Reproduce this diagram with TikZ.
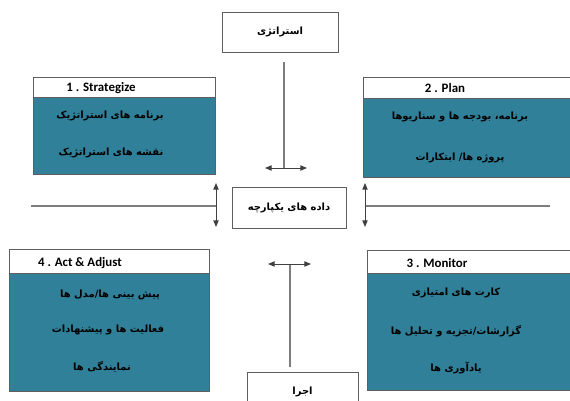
\documentclass[tikz,border=0pt]{standalone}
\usepackage{fontspec}
\setmainfont{Carlito}
\newfontfamily\farsifont[Script=Arabic]{DejaVu Sans}
\TeXXeTstate=1
\definecolor{teal1}{RGB}{47, 128, 152}
\definecolor{edge1}{RGB}{95, 95, 95}
\definecolor{line1}{RGB}{125, 125, 125}
\usetikzlibrary{arrows.meta, positioning, calc}
\newcommand{\fa}[1]{{\farsifont\bfseries\beginR #1\endR}}

\begin{document}
\begin{tikzpicture}[x=0.03cm, y=-0.03cm,
    plainbox/.style={draw=edge1, line width=0.8pt, fill=white, inner sep=0pt, outer sep=0pt, font=\fontsize{8.5}{10}\selectfont},
    headbox/.style={draw=edge1, line width=0.8pt, fill=white, inner sep=0pt, outer sep=0pt},
    bodybox/.style={draw=edge1, line width=0.8pt, fill=teal1, inner sep=0pt, outer sep=0pt},
    headtext/.style={font=\fontsize{11}{13}\selectfont\bfseries, inner sep=0pt},
    bodytext/.style={font=\fontsize{8.5}{10}\selectfont, inner sep=0pt},
    link/.style={draw=line1, line width=1pt},
    twoway/.style={draw=black!75, line width=0.8pt, {Triangle[length=0.2cm, width=0.16cm]}-{Triangle[length=0.2cm, width=0.16cm]}}]
  \useasboundingbox (0,0) rectangle (570,401);
  \clip (0,0) rectangle (570,401);

  % centre column
  \node[plainbox, minimum width=3.48cm, minimum height=1.2cm] (strat) at (280,32) {\fa{استراتژی}};
  \node[plainbox, minimum width=3.42cm, minimum height=1.23cm] (data) at (289,207.5) {\fa{داده های یکپارچه}};
  \node[plainbox, minimum width=3.33cm, minimum height=1.2cm] (exec) at (302.5,392) {\fa{اجرا}};

  % 1 . Strategize
  \node[headbox, minimum width=5.46cm, minimum height=0.6cm] (h1) at (124,87) {};
  \node[bodybox, minimum width=5.46cm, minimum height=2.31cm, below=0pt of h1] (b1) {};
  \node[headtext] (t1) at (101,88) {1 . Strategize};
  \node[bodytext] (t1a) at (110,116) {\fa{برنامه های استراتژیک}};
  \node[bodytext] (t1b) at (111,153) {\fa{نقشه های استراتژیک}};

  % 2 . Plan
  \node[headbox, minimum width=6.36cm, minimum height=0.63cm] (h2) at (469,87.5) {};
  \node[bodybox, minimum width=6.36cm, minimum height=2.37cm, below=0pt of h2] (b2) {};
  \node[headtext] (t2) at (445,88) {2 . Plan};
  \node[bodytext] (t2a) at (460,117) {\fa{برنامه، بودجه ها و سناریوها}};
  \node[bodytext] (t2b) at (460,158) {\fa{پروژه ها/ ابتکارات}};

  % 3 . Monitor
  \node[headbox, minimum width=6.24cm, minimum height=0.69cm] (h3) at (471,261.5) {};
  \node[bodybox, minimum width=6.24cm, minimum height=3.51cm, below=0pt of h3] (b3) {};
  \node[headtext] (t3) at (437,263) {3 . Monitor};
  \node[bodytext] (t3a) at (456,293) {\fa{کارت های امتیازی}};
  \node[bodytext] (t3b) at (456,331) {\fa{گزارشات/تجزیه و تحلیل ها}};
  \node[bodytext] (t3c) at (456,368) {\fa{یادآوری ها}};

  % 4 . Act & Adjust
  \node[headbox, minimum width=6cm, minimum height=0.72cm] (h4) at (109,261) {};
  \node[bodybox, minimum width=6cm, minimum height=3.54cm, below=0pt of h4] (b4) {};
  \node[headtext] (t4) at (80,263) {4 . Act \& Adjust};
  \node[bodytext] (t4a) at (110,295) {\fa{پیش بینی ها/مدل ها}};
  \node[bodytext] (t4b) at (108,330) {\fa{فعالیت ها و پیشنهادات}};
  \node[bodytext] (t4c) at (102,367) {\fa{نمایندگی ها}};

  % connectors
  \coordinate (topT) at (284,168);
  \coordinate (botT) at (290,264);
  \coordinate (leftT) at (216,206);
  \coordinate (rightT) at (365,206);
  \coordinate (leftend) at (31,206);
  \coordinate (rightend) at (550,206);
  \draw[link, shorten <=0.3cm] (strat.south -| topT) -- (topT);
  \draw[twoway] ($(topT)+(-19,0)$) -- ($(topT)+(23,0)$);
  \draw[link, shorten <=0.15cm] (exec.north -| botT) -- (botT);
  \draw[twoway] ($(botT)+(-22,0)$) -- ($(botT)+(21,0)$);
  \draw[link] (leftend) -- (leftT);
  \draw[link] (rightT) -- (rightend);
  \draw[twoway] ($(leftT)+(0,-23)$) -- ($(leftT)+(0,21)$);
  \draw[twoway] ($(rightT)+(0,-23)$) -- ($(rightT)+(0,21)$);
\end{tikzpicture}
\end{document}
